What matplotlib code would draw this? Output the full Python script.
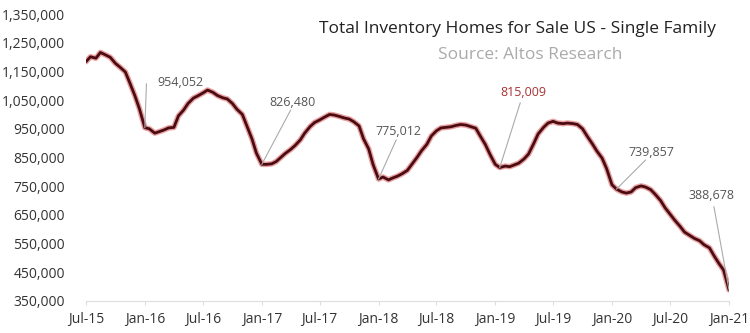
import matplotlib
matplotlib.use("Agg")
import matplotlib.pyplot as plt
import matplotlib.dates as mdates
import pandas as pd
import numpy as np

plt.rcParams['font.family'] = ['Open Sans', 'DejaVu Sans']

# semi-monthly readings (1st and 15th), Jul 2015 .. Jan 2021, in thousands
dates = pd.date_range('2015-07-01', periods=133, freq='SMS')
inventory_k = [
    1184, 1201, 1196, 1216, 1207, 1199, 1178, 1165, 1148, 1110, 1065, 1020,
    954, 950, 935, 940, 946, 953, 955, 995, 1015, 1038, 1057, 1065,
    1075, 1085, 1077, 1066, 1058, 1054, 1038, 1018, 1000, 960, 915, 865,
    826.48, 826, 828, 836, 850, 864, 878, 892, 911, 935, 958, 972,
    981, 990, 1000, 998, 993, 988, 984, 975, 960, 915, 880, 825,
    775.012, 782, 772, 779, 785, 793, 805, 826, 850, 873, 896, 925,
    943, 953, 955, 957, 962, 965, 963, 958, 952, 925, 895, 862,
    826, 815.009, 820, 818, 824, 830, 845, 862, 898, 932, 955, 970,
    976, 970, 968, 970, 968, 965, 950, 925, 897, 872, 848, 812,
    755, 739.857, 730, 726, 730, 745, 751, 747, 738, 722, 700, 675,
    652, 632, 610, 590, 578, 568, 560, 546, 535, 508, 480, 458,
    388.678,
]
values = np.array(inventory_k) * 1000

annot_labels = ['954,052', '826,480', '775,012', '815,009', '739,857', '388,678']
annot_idx = [12, 36, 60, 85, 109, 132]
annot_text_pos = [('2016-02-10', 1113000), ('2017-01-25', 1040000), ('2017-12-22', 942000),
                  ('2019-01-18', 1075000), ('2020-02-20', 869000), ('2020-08-28', 719000)]
annot_line_end = [('2016-01-06', 1106000), ('2017-04-01', 1015000), ('2018-02-25', 911000),
                  ('2019-03-20', 1040000), ('2020-04-15', 841000), ('2020-11-15', 678000)]
annot_colors = ['#555555', '#555555', '#555555', '#a83232', '#555555', '#555555']

yticks = np.arange(350000, 1350001, 100000)
xtick_dates = pd.date_range('2015-07-01', '2021-01-01', freq='6MS')

fig = plt.figure(figsize=(7.5, 3.33), dpi=100)
ax = fig.add_axes([86/750, 1-301/333, (729-86)/750, (301-14)/333])

ax.plot(dates, values, color='#e8a0a0', lw=4.0, solid_capstyle='round', zorder=2)
ax.plot(dates, values, color='#4a0c12', lw=2.0, solid_capstyle='round', zorder=3)

for lab, i, (tx, ty), (lx, ly), c in zip(annot_labels, annot_idx, annot_text_pos,
                                         annot_line_end, annot_colors):
    ax.plot([dates[i], pd.Timestamp(lx)], [values[i], ly], color='#aaaaaa', lw=0.8, zorder=4)
    ax.text(pd.Timestamp(tx), ty, lab, fontsize=9, color=c, ha='left', va='center', zorder=5)

ax.set_xlim(pd.Timestamp('2015-07-01'), pd.Timestamp('2021-01-01'))
ax.set_ylim(350000, 1350000)
ax.set_yticks(yticks)
ax.set_yticklabels([f'{v:,.0f}' for v in yticks])
ax.set_xticks(xtick_dates)
ax.xaxis.set_major_formatter(mdates.DateFormatter('%b-%y'))

for s in ['top', 'right', 'left']:
    ax.spines[s].set_visible(False)
ax.spines['bottom'].set_color('#dddddd')
ax.tick_params(axis='y', length=0, labelsize=10, labelcolor='#333333', pad=15)
ax.tick_params(axis='x', length=3, color='#dddddd', labelsize=10, labelcolor='#333333', pad=5)

fig.text(716/750, 1-29/333, 'Total Inventory Homes for Sale US - Single Family',
         ha='right', va='center', fontsize=12.5, color='#222222')
fig.text(530/750, 1-55/333, 'Source: Altos Research',
         ha='center', va='center', fontsize=12.5, color='#aaaaaa')

fig.savefig('out.png', dpi=100)
